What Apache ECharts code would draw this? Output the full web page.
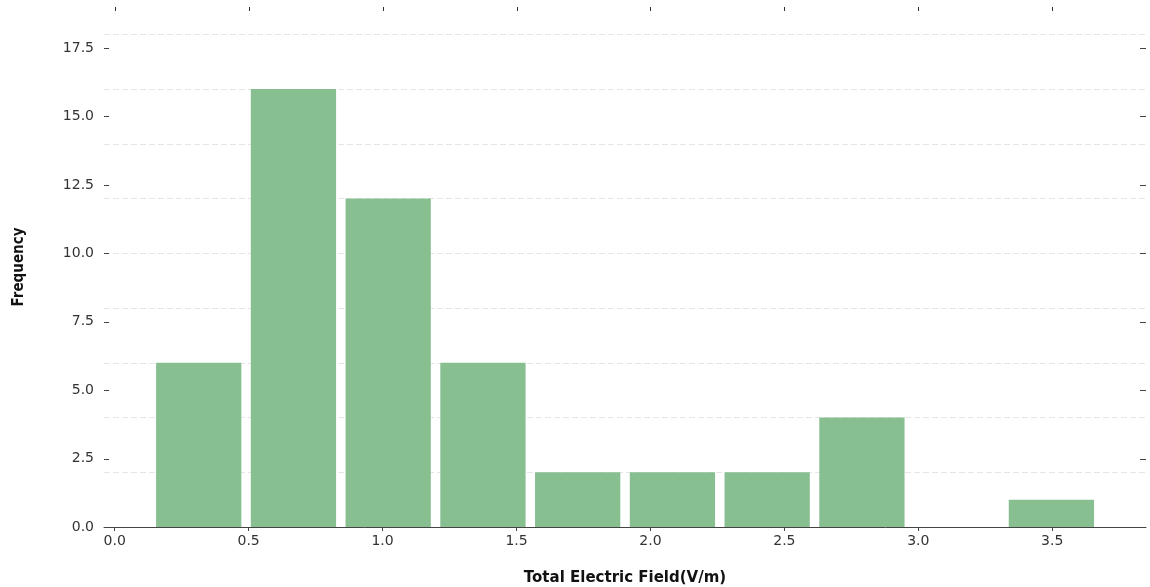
<!DOCTYPE html>
<html>
<head>
<meta charset="utf-8">
<script src="https://cdn.jsdelivr.net/npm/echarts@6/dist/echarts.min.js"></script>
<style>
html,body{margin:0;padding:0;background:#fff;}
#chart{width:1150px;height:587px;}
</style>
</head>
<body>
<div id="chart"></div>
<script>
// Histogram bins (V/m) and counts
const binLow  = [0.1367, 0.4904, 0.8441, 1.1978, 1.5515, 1.9052, 2.2589, 2.6126, 2.9663, 3.3200];
const binHigh = [0.4904, 0.8441, 1.1978, 1.5515, 1.9052, 2.2589, 2.6126, 2.9663, 3.3200, 3.6737];
const counts  = [6, 16, 12, 6, 2, 2, 2, 4, 0, 1];
const xTicks  = [0, 0.5, 1.0, 1.5, 2.0, 2.5, 3.0, 3.5];
const yTicks  = [0, 2.5, 5, 7.5, 10, 12.5, 15, 17.5];

const data = counts.map((c, i) => [binLow[i], binHigh[i], c]);

const chart = echarts.init(document.getElementById('chart'), null, {renderer: 'canvas'});
const tickFont = {fontFamily: 'DejaVu Sans', fontSize: 14, color: '#333'};
const nameFontY = {fontFamily: 'DejaVu Sans Condensed', fontWeight: 'bold', fontSize: 15, color: '#111'};
const nameFontX = {fontFamily: 'DejaVu Sans', fontWeight: 'bold', fontSize: 15, color: '#111'};
const TICK_COLOR = '#444';

function histItem(params, api) {
  const lo = api.value(0), hi = api.value(1), c = api.value(2);
  const pad = 0.05 * (hi - lo);
  const p0 = api.coord([lo + pad, c]);
  const p1 = api.coord([hi - pad, 0]);
  return {
    type: 'rect',
    shape: {x: p0[0], y: p0[1], width: p1[0] - p0[0], height: p1[1] - p0[1]},
    style: {fill: '#87bf91'}
  };
}

// frame ticks on left and right sides at y tick values
function yFrameTicks(params, api) {
  const cs = params.coordSys;
  const y = Math.round(api.coord([0, api.value(1)])[1]) + 0.5;
  return {
    type: 'group',
    children: [
      {type: 'line', shape: {x1: cs.x, y1: y, x2: cs.x + 5, y2: y}, style: {stroke: TICK_COLOR, lineWidth: 1}},
      {type: 'line', shape: {x1: cs.x + cs.width - 6, y1: y, x2: cs.x + cs.width, y2: y}, style: {stroke: TICK_COLOR, lineWidth: 1}}
    ]
  };
}

// frame ticks along the top at x tick values
function xTopTicks(params, api) {
  const cs = params.coordSys;
  const x = Math.round(api.coord([api.value(0), 0])[0]) + 0.5;
  return {
    type: 'line',
    shape: {x1: x, y1: cs.y, x2: x, y2: cs.y + 4},
    style: {stroke: '#333', lineWidth: 1}
  };
}

chart.setOption({
  animation: false,
  backgroundColor: '#fff',
  grid: {left: 104, right: 4, top: 7, bottom: 60, containLabel: false, outerBoundsMode: 'none'},
  xAxis: [{
    type: 'value', position: 'bottom', min: -0.04, max: 3.85,
    name: 'Total Electric Field(V/m)', nameLocation: 'middle', nameGap: 44,
    nameTextStyle: nameFontX,
    axisLine: {show: true, lineStyle: {color: '#444', width: 1}},
    axisTick: {show: true, length: 4, customValues: xTicks, lineStyle: {color: '#444'}},
    axisLabel: Object.assign({customValues: xTicks, margin: 7, formatter: v => v.toFixed(1)}, tickFont),
    splitLine: {show: false}
  }],
  yAxis: [{
    type: 'value', position: 'left', min: 0, max: 19,
    name: 'Frequency', nameLocation: 'middle', nameGap: 77, nameRotate: 90,
    nameTextStyle: nameFontY,
    axisLine: {show: false},
    axisTick: {show: false},
    axisLabel: Object.assign({customValues: yTicks, margin: 10, formatter: v => v.toFixed(1)}, tickFont),
    splitLine: {show: false}
  }, {
    type: 'value', position: 'right', min: 0, max: 19, interval: 2,
    axisLine: {show: false}, axisTick: {show: false}, axisLabel: {show: false},
    splitLine: {show: true, showMinLine: false, showMaxLine: false,
      lineStyle: {color: '#e6e6e6', type: [6, 3], width: 1}}
  }],
  series: [{
    type: 'custom',
    xAxisIndex: 0, yAxisIndex: 0,
    data: data,
    encode: {x: [0, 1], y: 2},
    renderItem: histItem
  }, {
    type: 'custom',
    xAxisIndex: 0, yAxisIndex: 0,
    silent: true, clip: false,
    data: yTicks.map(v => [0, v]),
    encode: {x: 0, y: 1},
    renderItem: yFrameTicks
  }, {
    type: 'custom',
    xAxisIndex: 0, yAxisIndex: 0,
    silent: true, clip: false,
    data: xTicks.map(v => [v, 0]),
    encode: {x: 0, y: 1},
    renderItem: xTopTicks
  }, {
    type: 'custom',
    xAxisIndex: 0, yAxisIndex: 1,
    silent: true,
    data: data,
    encode: {x: [0, 1], y: 2},
    renderItem: function () { return {type: 'group', children: []}; }
  }]
});
</script>
</body>
</html>
